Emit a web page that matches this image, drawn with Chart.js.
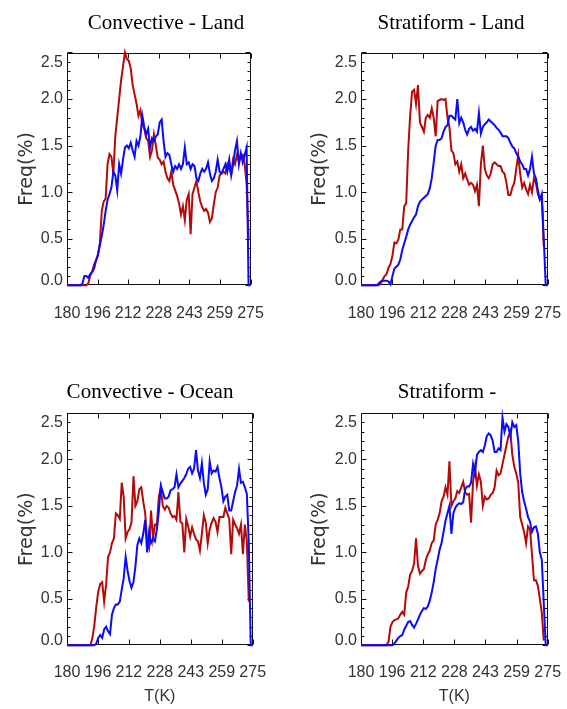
<!DOCTYPE html>
<html><head><meta charset="utf-8">
<script src="https://cdn.jsdelivr.net/npm/chart.js@4.4.1/dist/chart.umd.min.js"></script>
<style>
html,body{margin:0;padding:0;background:#fff;overflow:hidden;width:567px;height:709px;position:relative}
canvas{position:absolute}
</style></head><body>
<canvas id="c1" width="332" height="354" style="left:0px;top:0px"></canvas>
<canvas id="c2" width="302" height="354" style="left:300px;top:0px"></canvas>
<canvas id="c3" width="300" height="355" style="left:0px;top:354px"></canvas>
<canvas id="c4" width="294" height="355" style="left:300px;top:354px"></canvas>
<script>
// Temperature grid (K)
const temps = [180,181,182,183,184,185,186,187,188,189,190,191,192,193,194,195,196,197,198,199,
200,201,202,203,204,205,206,207,208,209,210,211,212,213,214,215,216,217,218,219,
220,221,222,223,224,225,226,227,228,229,230,231,232,233,234,235,236,237,238,239,
240,241,242,243,244,245,246,247,248,249,250,251,252,253,254,255,256,257,258,259,
260,261,262,263,264,265,266,267,268,269,270,271,272,273,274,275];
const xTickLabels = ['180','196','212','228','243','259','275'];
const yTickLabels = ['0.0','0.5','1.0','1.5','2.0','2.5'];
const panelTitles = ['Convective - Land','Stratiform - Land','Convective - Ocean','Stratiform -'];

// Convective - Land
const convLandRed = [0,0,0,0,0,0,0,0,0,0,0,
0.02,0.1,0.15,0.22,0.27,0.32,0.45,0.8,0.9,0.93,
1.3,1.41,1.38,1.2,1.6,1.8,2.0,2.2,2.35,2.5,
2.43,2.41,2.33,2.15,2.05,1.95,1.82,1.88,1.73,1.68,
1.58,1.55,1.38,1.45,1.62,1.5,1.37,1.35,1.3,1.33,
1.22,1.15,1.12,1.22,1.08,1.02,0.96,0.88,0.76,0.85,
0.7,0.92,0.98,0.55,0.98,1.05,1.12,1.0,0.9,0.84,
0.8,0.82,0.78,0.68,0.72,0.87,1.0,1.05,1.18,1.2,
1.22,1.2,1.3,1.25,1.2,1.35,1.3,1.4,1.33,1.38,
1.4,1.3,1.08,0.5];
const convLandBlue = [0,0,0,0,0,0,0,0,
0.02,0.1,0.1,0.08,0.12,0.14,0.18,0.26,0.33,0.43,0.53,0.65,0.8,
0.92,0.98,1.05,1.22,1.18,1.02,1.3,1.2,1.35,1.48,
1.5,1.47,1.53,1.45,1.38,1.55,1.5,1.6,1.82,1.7,
1.62,1.68,1.48,1.58,1.55,1.6,1.62,1.75,1.78,1.55,
1.38,1.42,1.4,1.3,1.22,1.28,1.25,1.3,1.25,1.3,
1.48,1.3,1.32,1.25,1.3,1.28,1.15,1.12,1.2,1.25,
1.22,1.25,1.32,1.2,1.12,1.15,1.22,1.35,1.22,1.2,
1.25,1.3,1.22,1.35,1.18,1.3,1.45,1.55,1.3,1.42,
1.32,1.4,1.48,0,0];

// Stratiform - Land
const stratLandRed = [0,0,0,0,0,0,0,0,0,0,
0.02,0.06,0.1,0.12,0.19,0.23,0.32,0.46,0.45,0.49,
0.6,0.6,0.85,0.88,1.45,1.82,2.08,2.1,1.95,2.15,
1.75,1.7,1.65,1.8,1.83,1.8,1.9,1.8,1.6,1.98,
1.99,2.0,1.99,2.0,1.8,1.7,1.45,1.42,1.3,1.33,
1.22,1.3,1.15,1.2,1.14,1.08,1.1,1.08,1.01,1.08,
0.85,1.3,1.5,1.25,1.18,1.15,1.2,1.3,1.32,1.3,
1.28,1.28,1.22,1.2,1.1,0.97,0.97,1.05,1.1,1.25,
1.4,1.2,1.05,1.1,1.03,0.98,1.08,1.0,1.15,1.1,
0.98,0.92,0.95,0.42];
const stratLandBlue = [0,0,0,0,0,0,0,0,0,
0.02,0.04,0.05,0.05,0.05,0.04,0.01,0.1,0.18,0.2,0.22,
0.28,0.38,0.45,0.52,0.6,0.65,0.69,0.73,0.76,0.85,
0.9,0.92,0.94,0.96,0.98,1.04,1.15,1.32,1.5,1.56,
1.56,1.58,1.65,1.7,1.72,1.82,1.82,1.8,1.78,2.0,
1.74,1.8,1.75,1.67,1.62,1.68,1.7,1.66,1.68,1.65,
1.85,1.63,1.7,1.73,1.75,1.78,1.76,1.74,1.72,1.69,
1.67,1.64,1.6,1.6,1.6,1.58,1.53,1.49,1.47,1.42,
1.38,1.33,1.3,1.25,1.25,1.18,1.25,1.38,1.2,1.15,
1.02,0.92,0.98,0.5,0,0];

// Convective - Ocean
const convOceanRed = [0,0,0,0,0,0,0,0,0,0,0,0,0,
0.08,0.22,0.42,0.58,0.66,0.68,0.47,
0.65,0.95,1.0,1.1,1.15,1.42,1.4,1.36,1.75,1.6,
1.15,1.22,1.25,1.32,1.82,1.5,1.55,1.68,1.7,1.55,
1.42,1.12,1.05,1.45,1.15,1.3,1.3,1.6,1.7,1.5,
1.46,1.5,1.48,1.42,1.38,1.39,1.35,1.65,1.33,1.31,
1.0,1.36,1.28,1.17,1.27,1.2,1.14,1.12,1.02,1.2,
1.4,1.32,1.1,1.25,1.32,1.37,1.33,1.22,1.38,1.38,
1.38,1.48,1.42,1.36,0.98,1.35,1.3,1.26,1.2,1.3,
0.98,1.3,1.12,0.47];
const convOceanBlue = [0,0,0,0,0,0,0,0,0,0,0,0,0,0,0,
0.02,0.08,0.11,0.08,0.17,
0.2,0.15,0.12,0.33,0.4,0.44,0.44,0.47,0.6,0.72,
0.95,0.8,0.69,0.62,0.68,0.85,1.08,1.15,1.1,1.2,
1.35,1.0,1.22,1.1,1.15,1.12,1.25,1.45,1.72,1.65,
1.58,1.58,1.6,1.67,1.68,1.7,1.84,1.7,1.74,1.77,
1.8,1.84,1.9,1.92,1.85,1.9,2.1,1.88,1.8,1.96,
1.75,1.62,1.68,1.98,1.85,1.88,1.87,1.92,1.8,1.7,
1.55,1.6,1.62,1.45,1.45,1.55,1.65,1.72,1.9,1.75,
1.76,1.7,1.63,1.1,0,0];

// Stratiform - Ocean
const stratOceanRed = [0,0,0,0,0,0,0,0,0,0,0,0,0,0,
0.04,0.2,0.25,0.27,0.28,0.29,
0.33,0.36,0.33,0.57,0.63,0.76,0.8,0.88,1.15,0.85,
0.77,0.8,0.82,0.92,0.98,1.02,1.1,1.13,1.3,1.35,
1.42,1.55,1.6,1.7,1.62,1.98,1.5,1.55,1.58,1.66,
1.64,1.7,1.76,1.65,1.62,1.63,1.32,1.75,1.92,1.72,
1.84,1.76,1.5,1.6,1.57,1.58,1.62,1.64,1.7,1.88,
1.83,1.85,1.95,2.05,2.15,2.25,2.3,2.05,1.92,1.85,
1.75,1.38,1.3,1.22,1.1,1.28,1.25,0.98,0.7,0.7,
0.64,0.5,0.35,0.05];
const stratOceanBlue = [0,0,0,0,0,0,0,0,0,0,0,0,0,0,0,0,0,
0.02,0.05,0.08,
0.1,0.11,0.17,0.21,0.25,0.26,0.22,0.19,0.23,0.28,
0.33,0.37,0.4,0.39,0.42,0.48,0.57,0.68,0.82,0.92,
1.03,1.1,1.22,1.34,1.42,1.5,1.2,1.42,1.48,1.51,
1.53,1.52,1.54,1.68,1.71,1.71,1.75,1.95,1.85,2.05,
2.08,2.1,2.08,2.15,2.25,2.28,2.26,2.2,2.08,2.08,
2.12,2.1,2.45,2.3,2.38,2.35,2.25,2.4,2.35,2.37,
2.2,1.85,1.65,1.55,1.47,1.38,1.33,1.22,1.27,1.28,
1.2,1.0,0.92,0.45,0,0];

const RED = '#b40a0a';
const BLUE = '#0a0aff';
const LABEL_FONT = '16px "Liberation Sans", Arial, sans-serif';

// Frame, inward ticks (major + minor) and y tick labels, all placed through the chart scales
const framePlugin = {
  id: 'frame',
  beforeDatasetsDraw(chart) {
    const {ctx, chartArea: a, scales} = chart;
    const x = scales.x, y = scales.y;
    ctx.save();
    ctx.strokeStyle = '#111';
    ctx.lineWidth = 1;
    const L = Math.round(a.left) + 0.5, R = Math.round(a.right) - 0.5;
    const T = Math.round(a.top) + 0.5, B = Math.round(a.bottom) - 0.5;
    ctx.strokeRect(L, T, R - L, B - T);
    ctx.beginPath();
    x.ticks.forEach(t => {
      const px = Math.round(x.getPixelForValue(t.value)) + 0.5;
      ctx.moveTo(px, B); ctx.lineTo(px, B - 5);
      ctx.moveTo(px, T); ctx.lineTo(px, T + 5);
    });
    const step = 0.1, major = 0.5;
    for (let v = y.min; v <= y.max + 1e-9; v += step) {
      const py = Math.round(y.getPixelForValue(v)) + 0.5;
      const isMajor = Math.abs(v / major - Math.round(v / major)) < 1e-6;
      const len = isMajor ? 5 : 3;
      ctx.moveTo(L, py); ctx.lineTo(L + len, py);
      ctx.moveTo(R, py); ctx.lineTo(R - len, py);
    }
    ctx.stroke();
    ctx.restore();
  },
  afterDraw(chart) {
    const {ctx, chartArea: a, scales} = chart;
    const y = scales.y;
    ctx.save();
    ctx.font = LABEL_FONT;
    ctx.fillStyle = '#333';
    ctx.textAlign = 'right';
    ctx.textBaseline = 'middle';
    y.ticks.forEach((t, i) => {
      let py = y.getPixelForValue(t.value);
      py = Math.min(Math.max(py, a.top + 10), a.bottom - 5);
      ctx.fillText(yTickLabels[i], a.left - 4, py);
    });
    ctx.restore();
  }
};

function makePanel(id, title, red, blue, lay) {
  const xMin = temps[0], xMax = temps[temps.length - 1];
  return new Chart(document.getElementById(id), {
    type: 'line',
    data: {
      labels: temps,
      datasets: [
        {label: 'blue', data: blue, borderColor: BLUE, borderWidth: 2, clip: 4},
        {label: 'red', data: red, borderColor: RED, borderWidth: 2, clip: 4}
      ]
    },
    options: {
      responsive: false,
      animation: false,
      devicePixelRatio: 1,
      layout: {padding: 0},
      elements: {point: {radius: 0}, line: {tension: 0}},
      plugins: {
        legend: {display: false},
        tooltip: {enabled: false},
        title: {
          display: true, text: title, color: '#000',
          font: {family: '"Liberation Serif", "Times New Roman", serif', size: 21, weight: 'normal'},
          padding: {top: lay.titleTop, bottom: lay.titleBottom}
        }
      },
      scales: {
        x: {
          type: 'linear', position: 'bottom', min: xMin, max: xMax,
          grid: {display: false}, border: {display: false},
          afterBuildTicks(s) {
            s.ticks = xTickLabels.map((_, i) => ({value: xMin + i * (xMax - xMin) / (xTickLabels.length - 1)}));
          },
          ticks: {
            autoSkip: false, maxRotation: 0, minRotation: 0, padding: lay.xTickPad,
            color: '#333', font: {family: '"Liberation Sans", Arial, sans-serif', size: 16},
            callback: (v, i) => xTickLabels[i]
          },
          title: {
            display: !!lay.xTitle, text: lay.xTitle || '', color: '#333',
            font: {family: '"Liberation Sans", Arial, sans-serif', size: 16},
            padding: {top: 0, bottom: lay.xTitleBottom || 0}
          },
          afterFit(s) { s.height = lay.xH; }
        },
        y: {
          type: 'linear', position: 'left', min: 0, max: 2.5,
          grid: {display: false}, border: {display: false},
          ticks: {display: false, stepSize: 0.5},
          title: {
            display: true, text: 'Freq(%)', color: '#333',
            font: {family: '"DejaVu Sans", sans-serif', size: 19},
            padding: {top: lay.yTitlePad, bottom: 0}
          },
          afterFit(s) { s.width = lay.yW; }
        },
        y2: {
          type: 'linear', position: 'right', display: true,
          grid: {display: false}, border: {display: false},
          ticks: {display: false},
          afterFit(s) { s.width = lay.y2W; }
        }
      }
    },
    plugins: [framePlugin]
  });
}

makePanel('c1', panelTitles[0], convLandRed, convLandBlue,
  {titleTop: 10.4, titleBottom: 16.9, yW: 67, y2W: 81.5, xH: 68.7, xTickPad: 10.5, yTitlePad: 15.3});
makePanel('c2', panelTitles[1], stratLandRed, stratLandBlue,
  {titleTop: 10.4, titleBottom: 16.9, yW: 61, y2W: 54.3, xH: 68.7, xTickPad: 10.5, yTitlePad: 9.1});
makePanel('c3', panelTitles[2], convOceanRed, convOceanBlue,
  {titleTop: 25.9, titleBottom: 7.9, yW: 67, y2W: 47.3, xH: 63.7, xTickPad: 9.5, yTitlePad: 15.3, xTitle: 'T(K)', xTitleBottom: 2.8});
makePanel('c4', panelTitles[3], stratOceanRed, stratOceanBlue,
  {titleTop: 25.9, titleBottom: 7.9, yW: 61, y2W: 46.3, xH: 63.7, xTickPad: 9.5, yTitlePad: 8.6, xTitle: 'T(K)', xTitleBottom: 2.8});
</script>
</body></html>
